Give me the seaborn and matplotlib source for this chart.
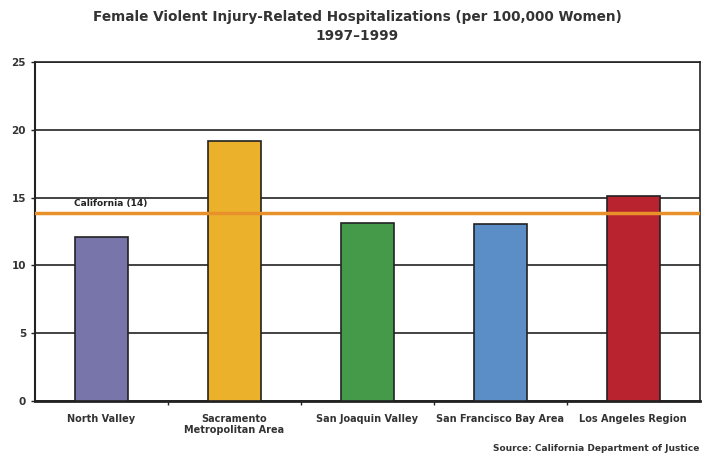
import numpy as np
import pandas as pd
import matplotlib.pyplot as plt
import seaborn as sns

regions = ["North Valley", "Sacramento\nMetropolitan Area", "San Joaquin Valley",
           "San Francisco Bay Area", "Los Angeles Region"]
rates = [12.1, 19.15, 13.1, 13.05, 15.1]
colors = ["#7775AA", "#EBB12B", "#449A48", "#5B8EC6", "#B8232F"]
state_rate = 13.9
state_label = "California (14)"
y_ticks = [0, 5, 10, 15, 20, 25]

sns.set_style("white")
plt.rcParams["font.family"] = ["DejaVu Sans"]

df = pd.DataFrame({"region": regions, "rate": rates})

fig = plt.figure(figsize=(7.14, 4.54), dpi=100)
ax = fig.add_axes([0.049, 0.1167, 0.931, 0.7467])

sns.barplot(data=df, x="region", y="rate", hue="region", palette=colors,
            saturation=1, width=0.4, edgecolor="#222222", linewidth=1.2,
            legend=False, ax=ax, zorder=3)

ax.set_ylim(0, 25)
ax.set_xlim(-0.5, len(regions) - 0.5)
ax.set_yticks(y_ticks)
ax.yaxis.grid(True, color="#222222", linewidth=1.2, zorder=0)
ax.set_axisbelow(True)

ax.axhline(state_rate, color="#E8912A", linewidth=2.5, zorder=4)
ax.text(-0.21, state_rate + 0.35, state_label, fontsize=6.5, fontweight="bold",
        color="#222222", ha="left", va="bottom")

for side in ["top", "bottom", "left", "right"]:
    ax.spines[side].set_visible(True)
    ax.spines[side].set_color("#222222")
ax.spines["left"].set_linewidth(1.5)
ax.spines["bottom"].set_linewidth(2)
ax.spines["right"].set_linewidth(1.2)
ax.spines["top"].set_linewidth(1.2)

ax.set_xticks(range(len(regions)))
ax.set_xticklabels(regions, fontsize=7, fontweight="bold", color="#333333", va="top")
ax.set_xticks(np.arange(0.5, len(regions) - 0.5, 1), minor=True)
ax.tick_params(axis="x", which="major", length=0, pad=9)
ax.tick_params(axis="x", which="minor", length=3, width=1, color="#222222", bottom=True)
ax.tick_params(axis="y", length=3, width=1, color="#222222", left=True, labelsize=7.5)
for lbl in ax.get_yticklabels():
    lbl.set_fontweight("bold")
    lbl.set_color("#333333")

ax.set_xlabel("")
ax.set_ylabel("")

fig.text(0.5, 0.978, "Female Violent Injury-Related Hospitalizations (per 100,000 Women)\n1997\u20131999",
         ha="center", va="top", fontsize=9.8, fontweight="bold", color="#333333",
         linespacing=1.45)
fig.text(0.98, 0.003, "Source: California Department of Justice", ha="right", va="bottom",
         fontsize=6.5, fontweight="bold", color="#333333")

fig.savefig("out.png", dpi=100)
